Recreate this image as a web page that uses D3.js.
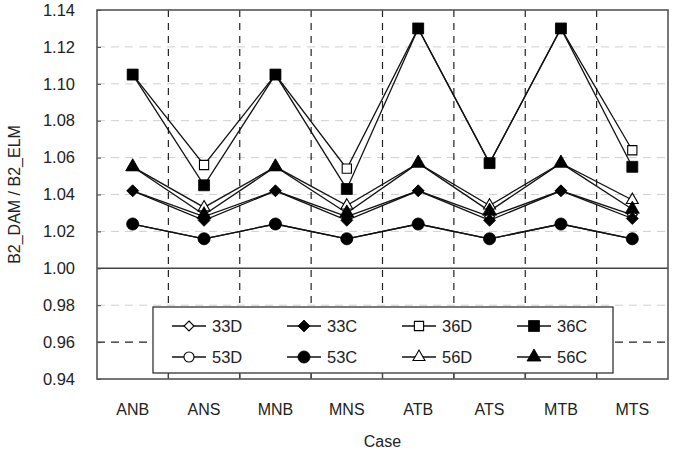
<!DOCTYPE html>
<html>
<head>
<meta charset="utf-8">
<script src="https://cdn.jsdelivr.net/npm/d3@7"></script>
<style>
  body { margin: 0; background: #fff; }
  text { font-family: "Liberation Sans", Arial, sans-serif; fill: #222; }
</style>
</head>
<body>
<div id="chart"></div>
<script>
// categories and tick values
const cases = ['ANB', 'ANS', 'MNB', 'MNS', 'ATB', 'ATS', 'MTB', 'MTS'];
const yTicks = [0.94, 0.96, 0.98, 1.00, 1.02, 1.04, 1.06, 1.08, 1.10, 1.12, 1.14];

// series values
const s33D = [1.042, 1.028, 1.042, 1.028, 1.042, 1.028, 1.042, 1.029];
const s33C = [1.042, 1.026, 1.042, 1.026, 1.042, 1.026, 1.042, 1.027];
const s36D = [1.105, 1.056, 1.105, 1.054, 1.130, 1.057, 1.130, 1.064];
const s36C = [1.105, 1.045, 1.105, 1.043, 1.130, 1.057, 1.130, 1.055];
const s53D = [1.024, 1.016, 1.024, 1.016, 1.024, 1.016, 1.024, 1.016];
const s53C = [1.024, 1.016, 1.024, 1.016, 1.024, 1.016, 1.024, 1.016];
const s56D = [1.055, 1.033, 1.055, 1.034, 1.057, 1.034, 1.057, 1.037];
const s56C = [1.055, 1.029, 1.055, 1.030, 1.057, 1.031, 1.057, 1.032];

const series = [
  { name: '33D', values: s33D, shape: 'diamond', filled: false },
  { name: '33C', values: s33C, shape: 'diamond', filled: true },
  { name: '36D', values: s36D, shape: 'square', filled: false },
  { name: '36C', values: s36C, shape: 'square', filled: true },
  { name: '53D', values: s53D, shape: 'circle', filled: false },
  { name: '53C', values: s53C, shape: 'circle', filled: true },
  { name: '56D', values: s56D, shape: 'triangle', filled: false },
  { name: '56C', values: s56C, shape: 'triangle', filled: true }
];

const width = 677, height = 451;
const margin = { top: 10, right: 9, bottom: 72, left: 97 };
const iw = width - margin.left - margin.right;
const ih = height - margin.top - margin.bottom;

const svg = d3.select('#chart').append('svg')
  .attr('width', width)
  .attr('height', height);

const g = svg.append('g')
  .attr('transform', `translate(${margin.left},${margin.top})`);

const x = d3.scaleBand().domain(cases).range([0, iw]).padding(0);
const y = d3.scaleLinear().domain([0.94, 1.14]).range([ih, 0]);

// horizontal grid (light dashed), 0.96 dark dashed, 1.00 solid
g.append('g').selectAll('line')
  .data(yTicks.filter(d => d > 0.941 && d < 1.139 && Math.abs(d - 1) > 1e-6))
  .enter().append('line')
  .attr('x1', 0).attr('x2', iw)
  .attr('y1', d => y(d)).attr('y2', d => y(d))
  .style('stroke', d => Math.abs(d - 0.96) < 1e-6 ? '#222' : '#cfcfcf')
  .style('stroke-width', d => Math.abs(d - 0.96) < 1e-6 ? 1.2 : 1)
  .style('stroke-dasharray', '8,6');

g.append('line')
  .attr('x1', 0).attr('x2', iw)
  .attr('y1', y(1)).attr('y2', y(1))
  .style('stroke', '#444')
  .style('stroke-width', 1.6);

// vertical dashed lines between cases
g.append('g').selectAll('line')
  .data(cases.slice(1))
  .enter().append('line')
  .attr('x1', d => x(d)).attr('x2', d => x(d))
  .attr('y1', 0).attr('y2', ih)
  .style('stroke', '#222')
  .style('stroke-width', 1.2)
  .style('stroke-dasharray', '7,6');

// axes
const yAxis = g.append('g')
  .call(d3.axisLeft(y).tickValues(yTicks).tickFormat(d3.format('.2f')).tickSize(-4).tickPadding(22));
yAxis.select('.domain').remove();
yAxis.selectAll('line').style('stroke', '#444');
yAxis.selectAll('text').style('font-size', '16.5px').style('fill', '#222');

const xAxis = g.append('g')
  .attr('transform', `translate(0,${ih})`);
xAxis.selectAll('line')
  .data(cases.slice(1))
  .enter().append('line')
  .attr('x1', d => x(d)).attr('x2', d => x(d))
  .attr('y1', 0).attr('y2', -6)
  .style('stroke', '#444')
  .style('stroke-width', 1.2);
xAxis.selectAll('text')
  .data(cases)
  .enter().append('text')
  .attr('x', d => x(d) + x.bandwidth() / 2)
  .attr('y', 36)
  .attr('text-anchor', 'middle')
  .style('font-size', '16px')
  .text(d => d);

// axis titles
svg.append('text')
  .attr('x', margin.left + iw / 2)
  .attr('y', 447)
  .attr('text-anchor', 'middle')
  .style('font-size', '16px')
  .text('Case');

svg.append('text')
  .attr('transform', `translate(20,${margin.top + ih / 2}) rotate(-90)`)
  .attr('text-anchor', 'middle')
  .style('font-size', '16px')
  .text('B2_DAM / B2_ELM');

// marker helper
const symbolFor = {
  square: d3.symbolSquare,
  circle: d3.symbolCircle,
  triangle: d3.symbolTriangle
};
const sizeFor = (shape, filled) => {
  if (shape === 'square') return filled ? 120 : 85;
  if (shape === 'circle') return filled ? 115 : 80;
  if (shape === 'triangle') return filled ? 85 : 62;
  return 0;
};
function drawMarker(sel, s) {
  let d;
  if (s.shape === 'diamond') {
    const r = s.filled ? 6 : 5;
    d = `M0,${-r}L${r},0L0,${r}L${-r},0Z`;
  } else {
    d = d3.symbol().type(symbolFor[s.shape]).size(sizeFor(s.shape, s.filled))();
  }
  sel.append('path')
    .attr('d', d)
    .style('fill', s.filled ? '#000' : '#fff')
    .style('stroke', '#000')
    .style('stroke-width', s.filled ? 0.8 : 1.1);
}

const line = d3.line()
  .x((d, i) => x(cases[i]) + x.bandwidth() / 2)
  .y(d => y(d));

// draw open series first, filled on top
const order = series.filter(s => !s.filled).concat(series.filter(s => s.filled));
order.forEach(s => {
  g.append('path')
    .datum(s.values)
    .attr('d', line)
    .style('fill', 'none')
    .style('stroke', '#111')
    .style('stroke-width', 1.3);
});
order.forEach(s => {
  g.append('g').selectAll('g')
    .data(s.values)
    .enter().append('g')
    .attr('transform', (d, i) => `translate(${x(cases[i]) + x.bandwidth() / 2},${y(d)})`)
    .each(function () { drawMarker(d3.select(this), s); });
});

// legend
const legend = svg.append('g').attr('transform', 'translate(153,307)');
legend.append('rect')
  .attr('width', 460).attr('height', 66)
  .style('fill', '#fff')
  .style('stroke', '#333')
  .style('stroke-width', 1.3);

series.forEach((s, i) => {
  const col = i % 4, row = Math.floor(i / 4);
  const item = legend.append('g')
    .attr('transform', `translate(${36 + col * 115},${19 + row * 31})`);
  item.append('line')
    .attr('x1', -17).attr('x2', 17)
    .style('stroke', '#111').style('stroke-width', 1.3);
  drawMarker(item, s);
  item.append('text')
    .attr('x', 23).attr('dy', '0.36em')
    .style('font-size', '16.5px')
    .text(s.name);
});

// plot border
g.append('rect')
  .attr('width', iw).attr('height', ih)
  .style('fill', 'none')
  .style('stroke', '#555')
  .style('stroke-width', 1.6);
</script>
</body>
</html>
